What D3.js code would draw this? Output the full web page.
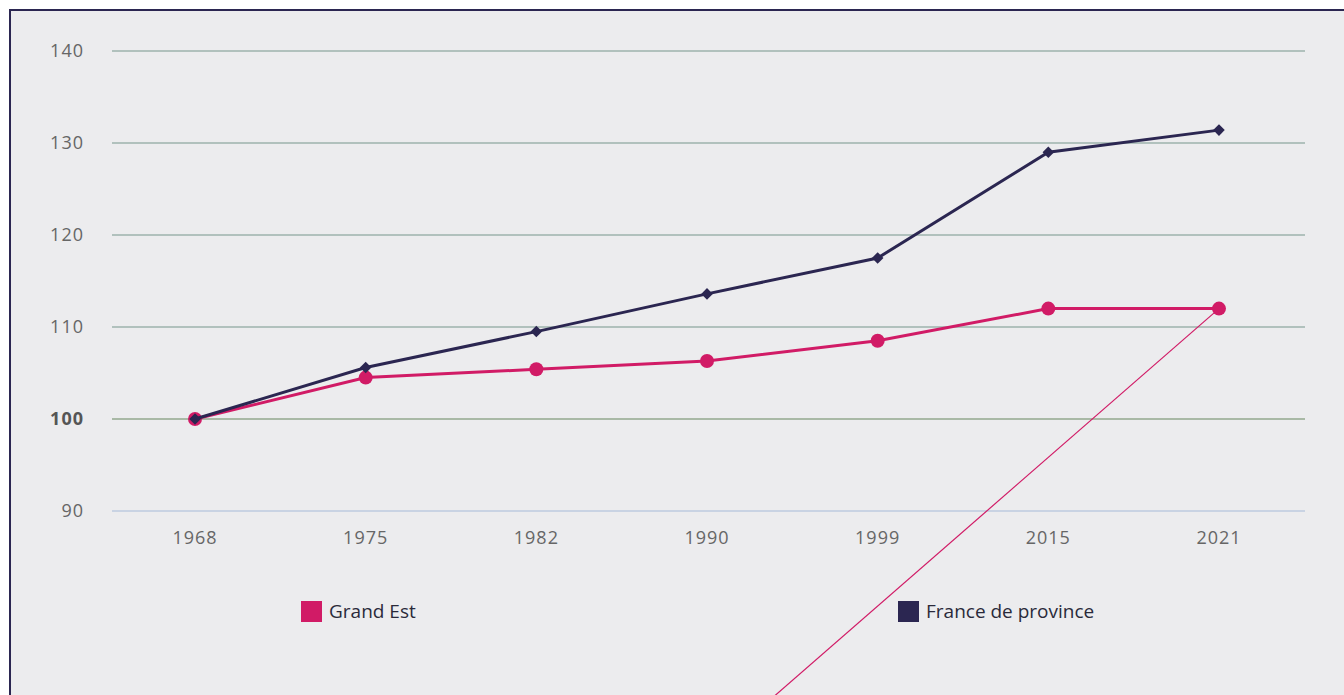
<!DOCTYPE html>
<html lang="fr">
<head>
  <meta charset="UTF-8">
  <title>Grand Est / France de province</title>
  <style>
    html, body { margin: 0; padding: 0; background: #ffffff; }
    svg { display: block; font-family: "Open Sans", "Noto Sans", sans-serif; }
  </style>
</head>
<body>
  <script src="https://cdn.jsdelivr.net/npm/d3@7/dist/d3.min.js"></script>
  <script>
    // données (base 100 en 1968)
    const years = ['1968', '1975', '1982', '1990', '1999', '2015', '2021'];
    const grandEst = [100, 104.5, 105.4, 106.3, 108.5, 112, 112];
    const franceProvince = [100, 105.6, 109.5, 113.6, 117.5, 129, 131.4];
    const yTicks = [90, 100, 110, 120, 130, 140];
    const seriesNames = ['Grand Est', 'France de province'];

    const W = 1344, H = 695;
    const colors = { ge: '#d11b66', fp: '#2b2651' };

    const svg = d3.select('body').append('svg').attr('width', W).attr('height', H);

    // cadre
    svg.append('rect')
      .attr('x', 10).attr('y', 10).attr('width', W + 20).attr('height', H + 20)
      .attr('fill', '#ececee').attr('stroke', '#2b2651').attr('stroke-width', 2);

    const x = d3.scalePoint().domain(years).range([109.7, 1304.3]).padding(0.5);
    const y = d3.scaleLinear().domain([90, 140]).range([511, 51]);

    // grille
    const grid = svg.append('g');
    grid.selectAll('line').data(yTicks).enter().append('line')
      .attr('x1', 112).attr('x2', 1305)
      .attr('y1', d => y(d)).attr('y2', d => y(d))
      .attr('stroke', d => d === 90 ? '#c9d3e3' : (d === 100 ? '#a9b9a6' : '#b1c1bd'))
      .attr('stroke-width', 2);

    // axe y
    svg.append('g').selectAll('text').data(yTicks).enter().append('text')
      .attr('x', 84).attr('y', d => y(d)).attr('dy', '0.35em')
      .attr('text-anchor', 'end')
      .attr('font-size', 18).attr('letter-spacing', 1)
      .attr('font-weight', d => d === 100 ? 'bold' : 'normal')
      .attr('fill', d => d === 100 ? '#555' : '#666')
      .text(d => d);

    // axe x
    svg.append('g').selectAll('text').data(years).enter().append('text')
      .attr('x', d => x(d)).attr('y', 538).attr('dy', '0.35em')
      .attr('text-anchor', 'middle')
      .attr('font-size', 18).attr('letter-spacing', 1).attr('fill', '#666')
      .text(d => d);

    const line = d3.line().x((d, i) => x(years[i])).y(d => y(d));

    // trait d'annotation depuis le dernier point Grand Est
    const last = years.length - 1;
    const ax = x(years[last]), ay = y(grandEst[last]);
    svg.append('line')
      .attr('x1', ax).attr('y1', ay)
      .attr('x2', ax - 109 / 95 * 450).attr('y2', ay + 450)
      .attr('stroke', colors.ge).attr('stroke-width', 1.2);

    // Grand Est
    svg.append('path').datum(grandEst)
      .attr('d', line).attr('fill', 'none')
      .attr('stroke', colors.ge).attr('stroke-width', 3);
    svg.append('g').selectAll('circle').data(grandEst).enter().append('circle')
      .attr('cx', (d, i) => x(years[i])).attr('cy', d => y(d)).attr('r', 7)
      .attr('fill', colors.ge);

    // France de province
    svg.append('path').datum(franceProvince)
      .attr('d', line).attr('fill', 'none')
      .attr('stroke', colors.fp).attr('stroke-width', 3);
    const diamond = d3.symbol().type(d3.symbolDiamond2).size(85);
    svg.append('g').selectAll('path').data(franceProvince).enter().append('path')
      .attr('d', diamond)
      .attr('transform', (d, i) => `translate(${x(years[i])},${y(d)})`)
      .attr('fill', colors.fp);

    // légende
    const legendX = [301, 898];
    const legend = svg.append('g').selectAll('g').data(seriesNames).enter().append('g')
      .attr('transform', (d, i) => `translate(${legendX[i]},601)`);
    legend.append('rect')
      .attr('width', 21).attr('height', 21)
      .attr('fill', (d, i) => i === 0 ? colors.ge : colors.fp);
    legend.append('text')
      .attr('x', 28).attr('y', 10).attr('dy', '0.35em')
      .attr('font-size', 19).attr('fill', '#2a2a3a')
      .text(d => d);
  </script>
</body>
</html>
